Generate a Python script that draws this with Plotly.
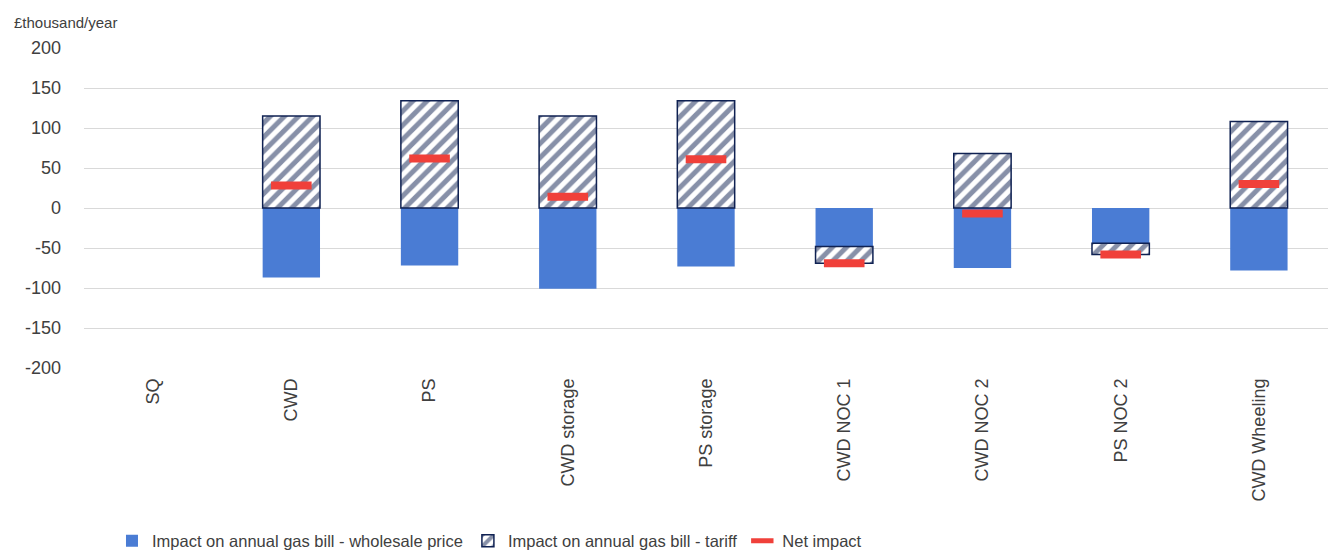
import plotly.graph_objects as go

# Scenario categories
categories = ["SQ", "CWD", "PS", "CWD storage", "PS storage",
              "CWD NOC 1", "CWD NOC 2", "PS NOC 2", "CWD Wheeling"]

# Annual gas bill impacts, £thousand/year (SQ is the baseline, no bars)
wholesale_price = [None, -87, -72, -101, -73, -48, -75, -44, -78]
tariff = [None, 115, 134, 115, 134, -21, 68, -14, 108]
net_impact = [None, 28, 62, 14, 61, -69, -7, -58, 30]

y_ticks = [200, 150, 100, 50, 0, -50, -100, -150, -200]

FONT = "Liberation Sans, Arial, sans-serif"
TEXT = "#404040"
BLUE = "#4a7cd4"
NAVY = "#0f2152"
RED = "#f0403a"

fig = go.Figure()

fig.add_trace(go.Bar(
    x=categories, y=wholesale_price,
    name="Impact on annual gas bill - wholesale price",
    marker=dict(color=BLUE, line=dict(width=0)),
))

fig.add_trace(go.Bar(
    x=categories, y=tariff,
    name="Impact on annual gas bill - tariff",
    marker=dict(
        color="white",
        line=dict(color=NAVY, width=1.5),
        pattern=dict(shape="/", fgcolor=NAVY, bgcolor="white",
                     size=10, solidity=0.5),
    ),
))

fig.add_trace(go.Scatter(
    x=categories, y=net_impact,
    name="Net impact",
    mode="markers",
    marker=dict(symbol="line-ew", size=29, color=RED,
                line=dict(color=RED, width=8)),
))

fig.update_layout(
    width=1330, height=556,
    margin=dict(l=84, r=2, t=48, b=188, autoexpand=False),
    paper_bgcolor="white", plot_bgcolor="white",
    barmode="relative",
    bargap=0.585,
    font=dict(family=FONT, size=17, color=TEXT),
    showlegend=True,
    legend=dict(
        orientation="h",
        xref="container", yref="container",
        x=0.0842, xanchor="left",
        y=0.027, yanchor="middle",
        font=dict(family=FONT, size=16.5, color=TEXT),
        itemclick=False,
        traceorder="normal",
    ),
    hovermode=False,
    annotations=[dict(
        text="£thousand/year",
        xref="paper", yref="paper",
        x=-0.058, xanchor="left",
        y=1.081, yanchor="middle",
        showarrow=False,
        font=dict(family=FONT, size=15, color=TEXT),
    )],
)

fig.update_xaxes(
    type="category",
    range=[-0.5, 8.5],
    tickangle=-90,
    showgrid=False,
    showline=False,
    ticks="",
    automargin=False,
    ticklabelstandoff=6,
    tickfont=dict(family=FONT, size=18, color=TEXT),
)

fig.update_yaxes(
    range=[-200, 200],
    tickvals=y_ticks,
    ticktext=[str(v) for v in y_ticks],
    showgrid=True,
    gridcolor="#d9d9d9",
    gridwidth=1,
    zeroline=True,
    zerolinecolor="#d9d9d9",
    zerolinewidth=1,
    showline=False,
    ticks="",
    automargin=False,
    ticklabelstandoff=22,
    tickfont=dict(family=FONT, size=18, color=TEXT),
)

fig.write_html("out.html")
